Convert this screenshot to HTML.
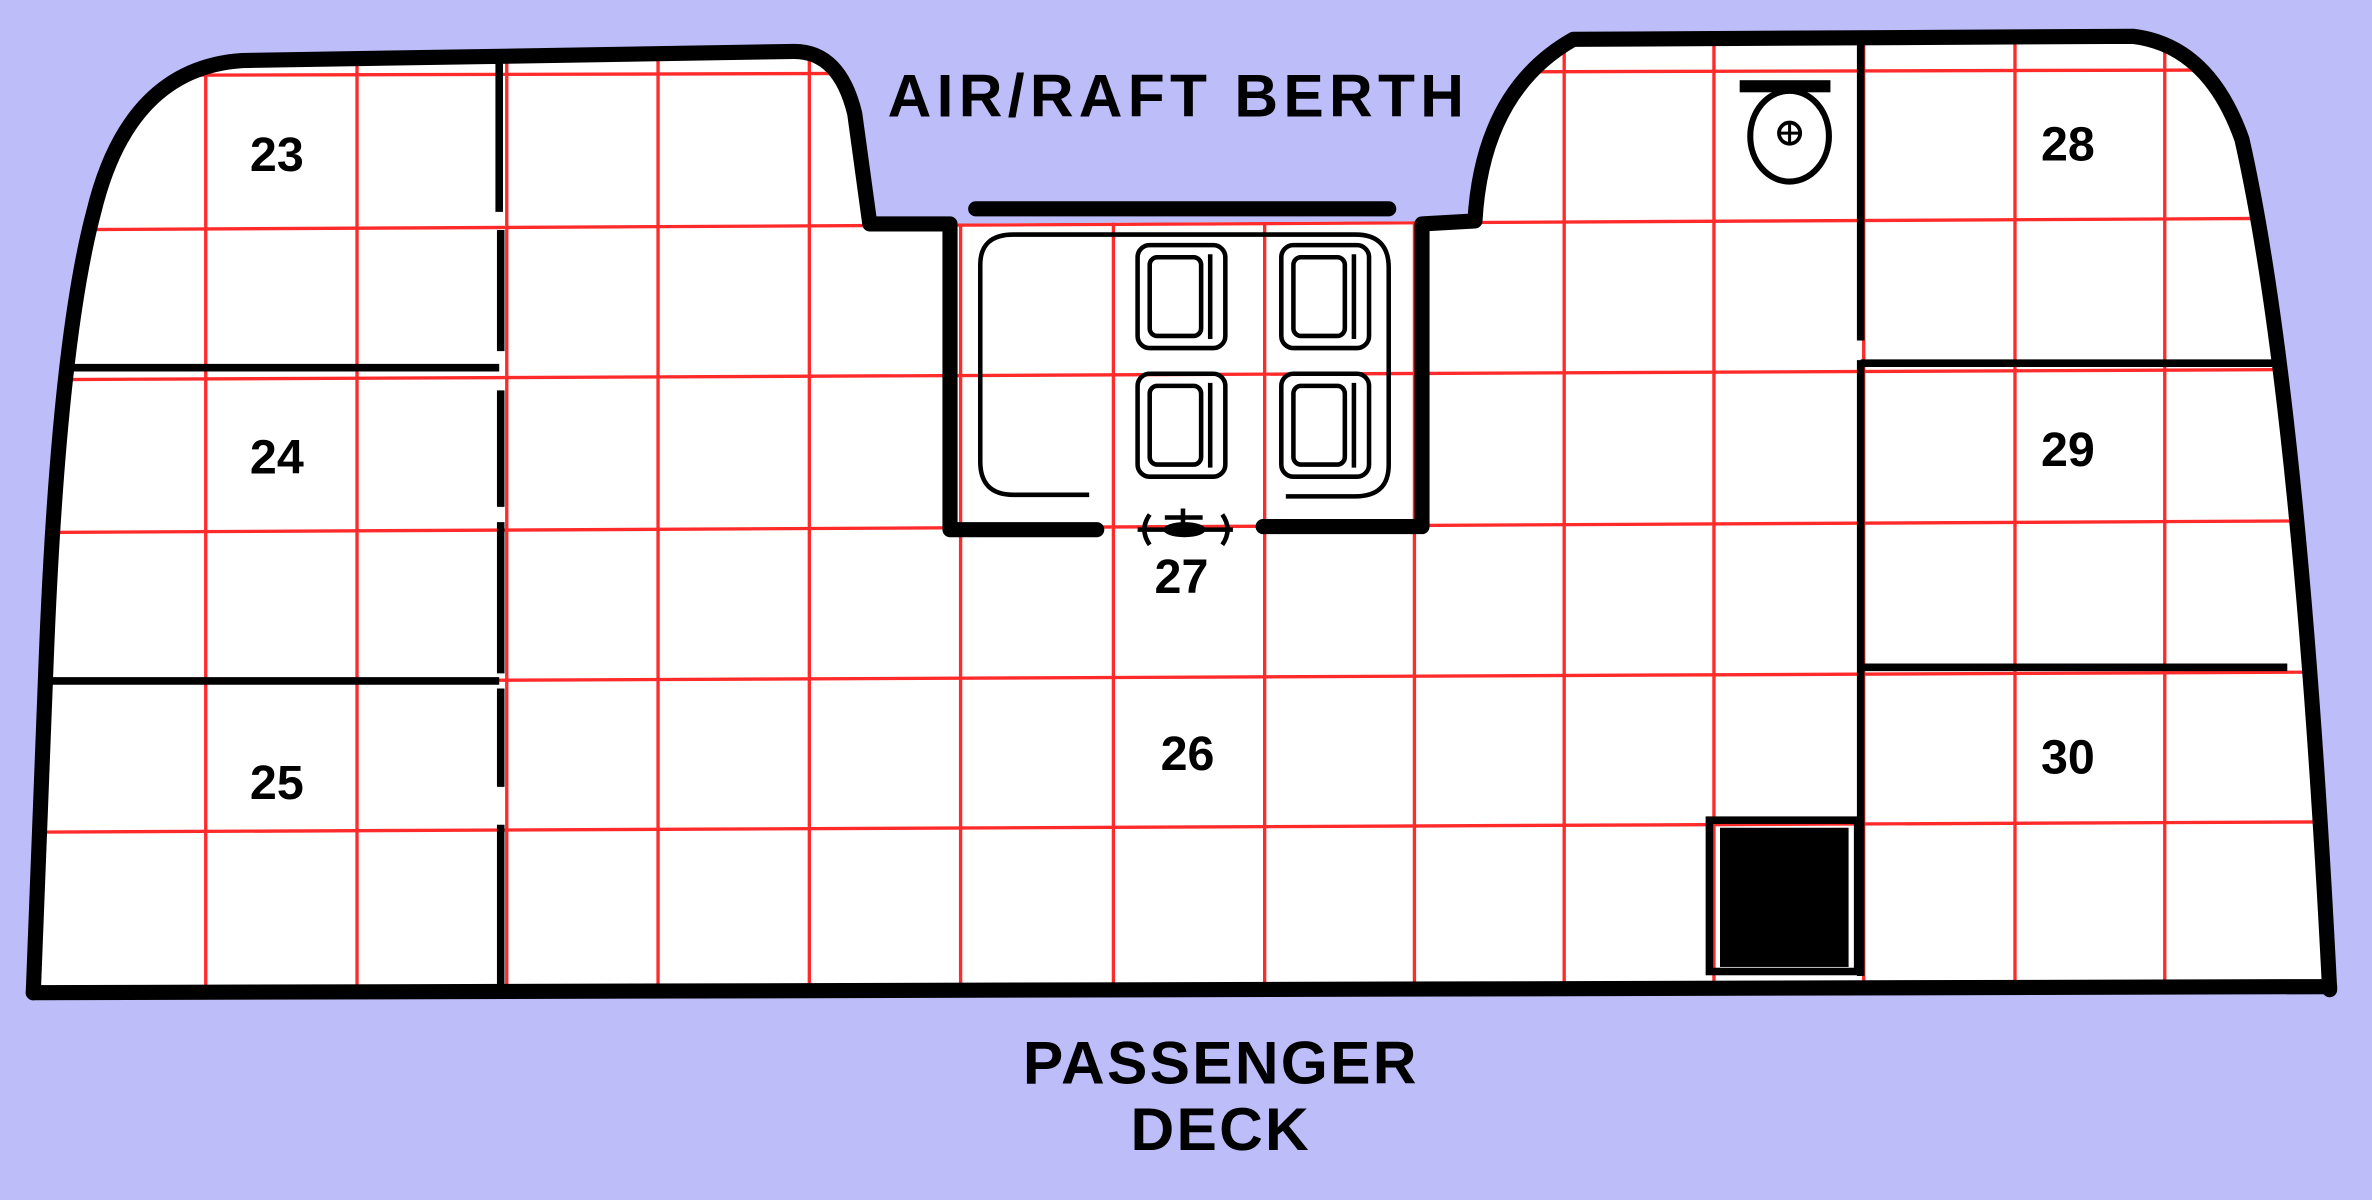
<!DOCTYPE html>
<html><head><meta charset="utf-8"><style>
html,body{margin:0;padding:0;background:#bdbdf9;}
svg{display:block;}
</style></head><body>
<svg width="2372" height="1200" viewBox="0 0 1568 793" preserveAspectRatio="none" xmlns="http://www.w3.org/2000/svg">
<rect width="1568" height="793" fill="#bdbdf9"/>
<defs>
<clipPath id="c"><path d="M22,656 L30,450 Q38,230 62,140 Q85,45 160,40 L525,34 Q555,34 565,75 L575,148 L975,146 Q980,60 1040,26 L1410,24 Q1460,30 1482,92 Q1520,260 1540,654 Z"/></clipPath>
</defs>
<path d="M22,656 L30,450 Q38,230 62,140 Q85,45 160,40 L525,34 Q555,34 565,75 L575,148 L975,146 Q980,60 1040,26 L1410,24 Q1460,30 1482,92 Q1520,260 1540,654 Z" fill="#fff"/>
<g clip-path="url(#c)" stroke="#ff2a2a" stroke-width="2.2">
<line x1="136" y1="0" x2="136" y2="793"/><line x1="236" y1="0" x2="236" y2="793"/>
<line x1="335" y1="0" x2="335" y2="793"/><line x1="435" y1="0" x2="435" y2="793"/>
<line x1="535" y1="0" x2="535" y2="793"/><line x1="635" y1="0" x2="635" y2="793"/>
<line x1="736" y1="0" x2="736" y2="793"/><line x1="836" y1="0" x2="836" y2="793"/>
<line x1="935" y1="0" x2="935" y2="793"/><line x1="1034" y1="0" x2="1034" y2="793"/>
<line x1="1133" y1="0" x2="1133" y2="793"/><line x1="1232" y1="0" x2="1232" y2="793"/>
<line x1="1332" y1="0" x2="1332" y2="793"/><line x1="1431" y1="0" x2="1431" y2="793"/>
<line x1="0" y1="50" x2="1568" y2="46"/><line x1="0" y1="152" x2="1568" y2="144"/>
<line x1="0" y1="251" x2="1568" y2="244"/><line x1="0" y1="352" x2="1568" y2="344"/>
<line x1="0" y1="451" x2="1568" y2="444"/><line x1="0" y1="550" x2="1568" y2="543"/>
</g>
<g fill="none" stroke="#000" stroke-width="10" stroke-linejoin="round" stroke-linecap="round">
<path d="M22,656 L30,450 Q38,230 62,140 Q85,45 160,40 L525,34 Q555,34 565,75 L575,148 L628,148 L628,350 L725,350"/>
<path d="M835,348 L940,348 L940,148 L975,146 Q980,60 1040,26 L1410,24 Q1460,30 1482,92 Q1520,260 1540,654"/>
<line x1="22" y1="656" x2="1540" y2="652"/>
<line x1="645" y1="138" x2="918" y2="138"/>
</g>
<g stroke="#000" stroke-width="5" fill="none">
<path d="M330,37 V140 M331,152 V232 M331,258 V335 M331,345 V445 M331,455 V520 M331,545 V655"/>
<line x1="40" y1="243" x2="330" y2="243"/>
<line x1="32" y1="450" x2="330" y2="450"/>
<path d="M1230,24 V225 M1230,238 V645"/>
<line x1="1230" y1="240" x2="1502" y2="240"/>
<line x1="1230" y1="441" x2="1512" y2="441"/>
<rect x="1130" y="542" width="98" height="100" stroke-width="5"/>
</g>
<rect x="1137" y="547" width="85" height="92" fill="#000"/>
<g fill="none" stroke="#000" stroke-width="3">
<path d="M720,327 H670 Q648,327 648,305 V175 Q648,155 670,155 H896 Q918,155 918,177 V307 Q918,328 896,328 H850"/>
<g id="ch"><rect x="752" y="162" width="58" height="68" rx="8"/><rect x="760" y="170" width="34" height="52" rx="5"/><line x1="800" y1="168" x2="800" y2="224"/></g>
<use href="#ch" x="95"/><use href="#ch" y="85"/><use href="#ch" x="95" y="85"/>
<ellipse cx="1183" cy="90" rx="26" ry="30" stroke-width="4"/>
<circle cx="1183" cy="88" r="7" stroke-width="2.5"/>
<path d="M1176,88 H1190 M1183,81 V95" stroke-width="2"/>
</g>
<rect x="1150" y="53" width="60" height="8" fill="#000"/>
<g stroke="#000" stroke-width="3" fill="none">
<path d="M752,350 H815 M760,340 Q753,350 760,360 M808,340 Q815,350 808,360 M770,342 H795 M782,336 V352"/>
</g>
<ellipse cx="783" cy="350" rx="14" ry="5" fill="#000"/>
<g font-family="Liberation Sans, sans-serif" font-weight="bold" fill="#000" text-anchor="middle">
<text x="183" y="113" font-size="32">23</text>
<text x="183" y="313" font-size="32">24</text>
<text x="183" y="528" font-size="32">25</text>
<text x="785" y="509" font-size="32">26</text>
<text x="781" y="392" font-size="32">27</text>
<text x="1367" y="106" font-size="32">28</text>
<text x="1367" y="308" font-size="32">29</text>
<text x="1367" y="511" font-size="32">30</text>
<text x="779" y="77" font-size="40" letter-spacing="3.5">AIR/RAFT BERTH</text>
<text x="807" y="716" font-size="40" letter-spacing="1.5">PASSENGER</text>
<text x="807" y="760" font-size="40" letter-spacing="1.5">DECK</text>
</g>
</svg>
</body></html>
